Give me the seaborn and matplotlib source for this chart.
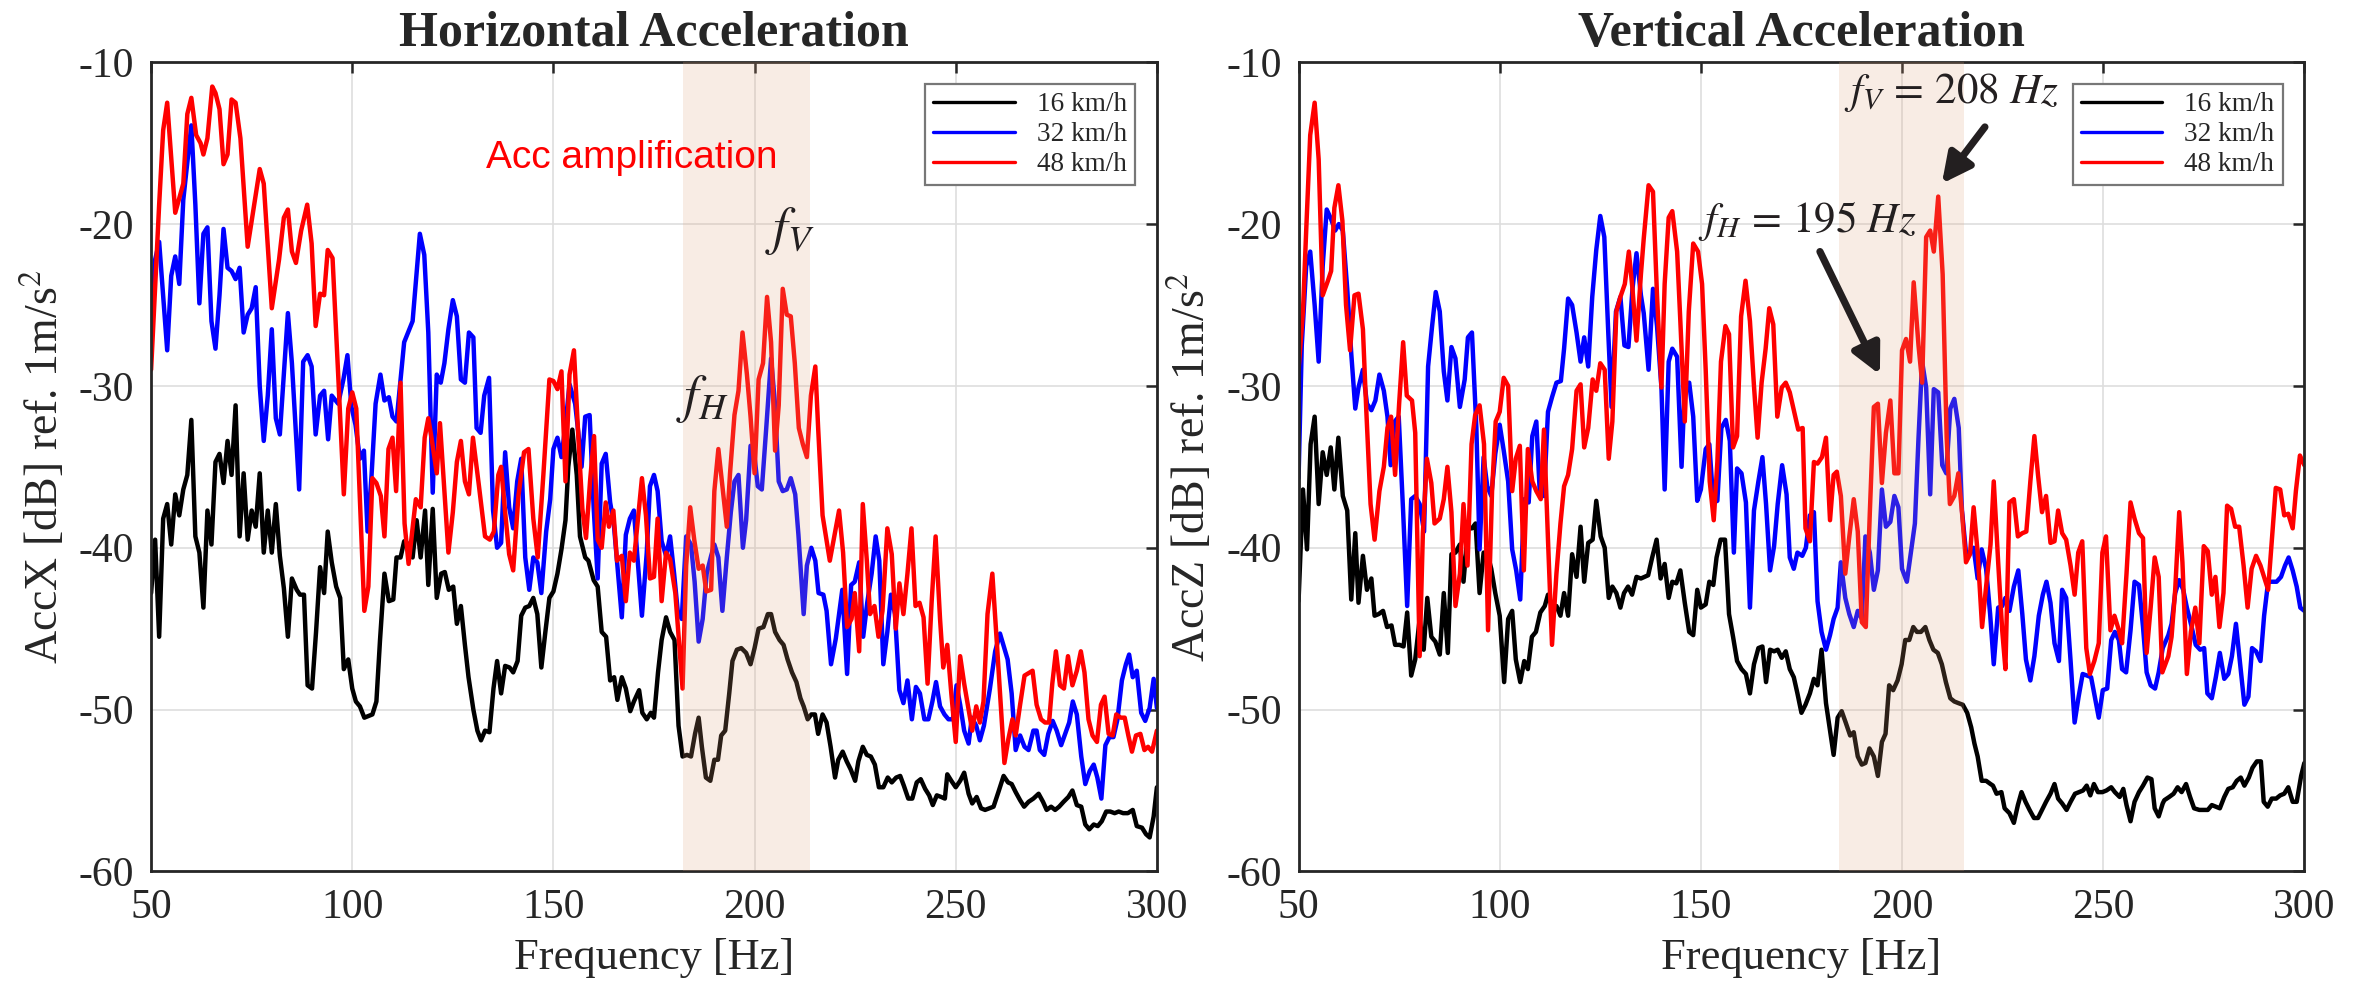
import matplotlib
matplotlib.use("Agg")
import matplotlib.pyplot as plt
from matplotlib.lines import Line2D
import pandas as pd
import seaborn as sns

# ---------------- spectra: (frequency [Hz], level [dB]) ----------------
# Horizontal acceleration (AccX)
accx_16 = [(50,-42.8),(51,-39.5),(52,-45.5),(53,-38.2),(54,-37.3),(55,-39.8),(56,-36.7),(57,-38.0),(58,-36.4),(59,-35.5),(60,-32.1),(61,-39.3),(62,-40.3),(63,-43.7),(64,-37.7),(65,-39.8),(66,-34.7),(67,-34.2),(68,-36.0),(69,-33.4),(70,-35.5),(71,-31.2),(72,-39.3),(73,-35.4),(74,-39.5),(75,-37.7),(76,-38.7),(77,-35.4),(78,-40.3),(79,-37.7),(80,-40.3),(81,-37.3),(82,-40.5),(83,-42.5),(84,-45.5),(85,-41.9),(86.2,-42.6),(87,-42.9),(88,-42.9),(88.9,-48.5),(90,-48.7),(91,-45.2),(92,-41.2),(93,-42.8),(93.9,-39.0),(94.9,-40.9),(96,-42.4),(97,-43.1),(97.9,-47.5),(99,-46.9),(100,-48.7),(100.9,-49.5),(101.9,-49.8),(103,-50.5),(105,-50.3),(106,-49.5),(106.9,-45.7),(108,-41.6),(109.1,-43.3),(110.2,-43.2),(111,-40.6),(112,-40.6),(112.9,-39.6),(114.1,-39.8),(115,-40.6),(116,-38.3),(117,-40.6),(118.1,-37.7),(118.9,-42.3),(120,-37.6),(121,-43.1),(122.1,-41.6),(123,-41.5),(124,-42.6),(125.1,-42.4),(126,-44.7),(127,-43.6),(128,-46.0),(128.9,-48.0),(130.1,-50.0),(131.1,-51.3),(132,-51.9),(133,-51.3),(134.1,-51.4),(135.1,-48.7),(136,-47.0),(137,-49.0),(138,-47.3),(139.1,-47.4),(140,-47.7),(141.1,-47.0),(142,-44.2),(143,-43.7),(144,-43.6),(145,-43.1),(146,-44.1),(147,-47.4),(148,-45.2),(149,-43.1),(150,-42.7),(151,-41.6),(152,-40.1),(153,-38.3),(153.7,-35.0),(154.7,-32.7),(155.8,-35.5),(156.6,-39.3),(157.9,-40.6),(158.7,-40.8),(160,-42.0),(161,-42.4),(162,-45.2),(163.1,-45.5),(164.1,-48.2),(165.1,-48.0),(165.9,-49.4),(167,-48.0),(168,-48.7),(169.1,-50.1),(170,-49.5),(171.3,-48.8),(172.1,-50.2),(173.2,-50.6),(174.2,-50.2),(175,-50.5),(176,-47.7),(176.9,-45.7),(178,-44.3),(179,-45.2),(180.1,-45.7),(181.1,-51.0),(182.1,-52.9),(183.2,-52.8),(184.2,-52.9),(185.2,-51.5),(186.1,-50.5),(186.9,-52.3),(187.9,-54.2),(189,-54.4),(190,-53.1),(190.9,-53.1),(191.7,-51.6),(192.7,-51.3),(193.7,-49.0),(194.5,-47.0),(195.6,-46.3),(196.7,-46.2),(197.9,-46.5),(199,-47.2),(200,-46.2),(201,-45.0),(202.2,-44.9),(203.3,-44.1),(204.1,-44.1),(205.1,-45.2),(206.2,-45.7),(207.2,-46.0),(208.2,-46.9),(209.3,-47.7),(210.4,-48.3),(211.4,-49.3),(212.2,-49.8),(213.2,-50.6),(214.1,-50.3),(215,-50.3),(215.8,-51.5),(216.9,-50.3),(217.9,-50.8),(218.9,-52.3),(220,-54.2),(220.8,-53.1),(221.9,-52.6),(222.9,-53.2),(223.9,-53.7),(225,-54.4),(225.8,-53.2),(226.9,-52.3),(227.9,-52.8),(228.9,-52.9),(229.9,-53.4),(230.9,-54.8),(232,-54.8),(233.1,-54.2),(234.1,-54.5),(235.2,-54.2),(236.2,-54.1),(237.1,-54.7),(238.2,-55.5),(239.2,-55.5),(240.3,-54.5),(241.3,-54.3),(242.4,-54.9),(243.4,-55.3),(244.3,-55.9),(245.3,-55.3),(246.4,-55.4),(247.3,-55.5),(247.9,-54.0),(248.9,-54.4),(250,-54.8),(251.1,-54.4),(252.1,-53.9),(253.2,-55.2),(254.1,-55.8),(255.2,-55.4),(256.3,-56.1),(257.3,-56.2),(259.4,-56.0),(260.6,-55.1),(261.9,-54.1),(263,-54.5),(263.9,-54.6),(264.9,-55.1),(266,-55.6),(267,-56.0),(268.1,-55.7),(269.3,-55.5),(270.6,-55.2),(271.7,-55.7),(272.6,-56.2),(273.7,-56.0),(274.7,-56.2),(275.7,-56.0),(276.8,-55.7),(278,-55.4),(279,-55.0),(280.1,-55.9),(281.2,-56.0),(282.2,-57.1),(283.2,-57.4),(284.3,-57.1),(285.3,-57.2),(286.3,-56.9),(287.4,-56.3),(288.4,-56.3),(289.5,-56.4),(290.5,-56.3),(291.6,-56.4),(292.8,-56.4),(294,-56.2),(295,-57.2),(296.3,-57.3),(297.3,-57.7),(298.2,-57.9),(299.2,-56.6),(300,-54.8)]

accx_32 = [(50,-27.2),(51,-22.2),(52,-21.1),(54,-27.8),(55,-23.2),(56,-22.0),(57,-23.7),(58,-18.5),(60,-13.9),(61,-18.8),(62,-24.9),(63,-20.6),(64,-20.2),(65,-26.0),(66,-27.7),(67,-24.4),(68,-20.3),(69,-22.7),(70,-22.9),(71,-23.4),(72,-22.7),(73,-26.7),(74,-25.6),(75,-25.2),(76,-23.9),(77,-30.0),(78,-33.4),(79,-30.6),(80,-26.5),(81,-32.0),(82,-33.0),(84,-25.5),(85,-28.6),(86.8,-36.4),(87.8,-28.5),(88.9,-28.1),(89.9,-28.8),(90.9,-33.0),(92,-30.6),(93,-30.3),(94,-33.3),(94.9,-30.6),(96.5,-31.1),(97.8,-29.6),(98.8,-28.1),(99.8,-31.3),(100.8,-32.4),(101.9,-34.5),(102.9,-34.0),(103.8,-39.0),(104.8,-35.5),(105.8,-31.1),(107,-29.3),(108,-30.9),(109.1,-30.7),(110,-31.9),(111,-32.2),(112.9,-27.3),(115,-26.0),(116.8,-20.6),(117.9,-21.9),(118.9,-26.7),(120,-36.6),(121,-29.3),(122,-29.8),(122.9,-28.6),(123.9,-26.5),(125,-24.7),(126,-25.7),(127,-29.6),(128,-29.8),(129,-26.7),(130.1,-27.0),(130.9,-32.6),(131.9,-32.9),(132.8,-30.6),(134,-29.5),(135,-37.7),(136,-40.0),(137,-39.7),(138,-34.1),(139,-37.5),(140,-38.8),(141,-35.9),(142,-34.5),(143,-40.6),(144,-42.6),(145,-40.6),(146,-40.9),(147,-42.8),(148.2,-39.0),(149.2,-37.0),(150,-33.9),(151,-33.2),(152,-34.4),(153,-32.4),(154,-29.9),(155.4,-31.1),(156.2,-32.9),(157,-35.0),(157.9,-31.9),(159,-31.8),(160,-37.5),(161,-41.9),(162,-34.8),(163,-34.2),(164.1,-37.2),(165,-38.5),(167,-44.3),(168,-39.2),(169,-38.2),(170,-37.7),(172,-44.2),(173.2,-40.3),(174,-36.2),(175,-35.5),(175.9,-36.5),(176.9,-39.6),(178,-40.5),(179,-39.3),(180,-41.6),(180.9,-43.9),(181.9,-44.4),(183,-39.3),(184.2,-39.8),(185.1,-42.1),(186.1,-45.8),(187.1,-44.4),(188.1,-41.6),(189.2,-40.5),(190,-39.8),(191,-40.6),(192,-43.9),(193.1,-40.6),(194.1,-37.8),(195,-35.9),(196,-35.5),(197.1,-40.0),(197.9,-38.3),(199,-33.7),(200,-34.4),(200.8,-36.2),(201.8,-36.4),(202.9,-32.6),(204.1,-28.3),(205,-30.9),(206,-35.9),(207,-36.5),(208,-36.4),(209,-35.7),(210.1,-36.7),(210.9,-39.2),(212.2,-44.1),(213,-41.1),(214.1,-40.0),(215.1,-40.8),(215.9,-42.8),(217.1,-42.9),(217.9,-43.9),(219,-47.2),(220.2,-45.6),(221.8,-42.6),(223,-47.8),(224,-42.3),(224.9,-42.1),(226,-40.9),(227,-45.5),(228,-43.4),(229.1,-41.6),(230.1,-39.3),(231,-40.8),(232,-47.2),(233,-45.2),(233.9,-42.9),(234.9,-44.1),(236,-48.8),(237,-49.6),(238,-48.2),(239.1,-50.6),(240.1,-48.6),(241.1,-49.0),(242.2,-50.6),(243.2,-50.6),(244.2,-49.5),(245.1,-48.3),(246.1,-49.8),(247.2,-50.3),(248.2,-50.6),(249.3,-50.6),(250.2,-48.5),(251.1,-49.7),(252.1,-51.3),(253.2,-52.1),(254,-50.5),(255.1,-51.0),(256,-51.9),(257,-51.0),(258.5,-48.7),(259.8,-46.4),(261,-45.3),(262.9,-46.9),(263.9,-49.0),(264.9,-52.5),(266,-51.6),(267.1,-52.3),(268.1,-52.5),(269.3,-51.3),(270.1,-51.3),(270.9,-52.5),(272,-52.8),(273,-51.5),(274.1,-50.7),(275.1,-51.3),(276.2,-52.2),(277.2,-51.5),(278.2,-50.8),(279.1,-49.5),(280.1,-50.3),(281.2,-52.9),(282.2,-54.6),(283.3,-53.8),(284.3,-53.4),(285.2,-54.2),(286.2,-55.5),(287.2,-52.2),(288.2,-51.7),(289.2,-51.7),(290.2,-50.6),(291.3,-48.2),(292.3,-47.2),(293.1,-46.6),(294,-48.0),(295,-47.6),(296.1,-50.2),(297.1,-50.7),(298.2,-49.9),(299.2,-48.1),(300,-49.9)]

accx_48 = [(50,-29.0),(51,-23.9),(52,-18.8),(53,-14.2),(54,-12.5),(56,-19.3),(58,-17.5),(59,-13.2),(60,-12.2),(61.2,-14.5),(62.3,-15.0),(63,-15.7),(64,-14.7),(65.2,-11.5),(66,-11.9),(67,-12.9),(68,-16.3),(69,-15.7),(70,-12.3),(71,-12.5),(72.2,-14.7),(74,-21.4),(77,-16.6),(78,-17.5),(80,-25.2),(81.8,-22.2),(83,-19.6),(84,-19.1),(85,-21.7),(86,-22.4),(87.3,-20.4),(88.8,-18.8),(89.9,-21.2),(90.9,-26.3),(92,-24.3),(93,-24.4),(93.9,-21.6),(95.1,-22.1),(96.5,-29.3),(97.9,-36.7),(99,-31.4),(100,-30.4),(101,-31.4),(103,-43.9),(104,-42.4),(105,-35.7),(106,-36.0),(107.1,-36.8),(108,-39.3),(109,-33.9),(110,-33.2),(110.9,-36.5),(112,-29.8),(113,-38.5),(114,-41.0),(115.8,-37.0),(117,-37.5),(118,-33.2),(118.9,-32.0),(119.7,-33.2),(121,-35.4),(121.8,-32.3),(123.9,-40.3),(125,-37.8),(126,-34.7),(127,-33.4),(128,-35.9),(129,-36.7),(130,-33.2),(131.5,-36.2),(133,-39.3),(134.2,-39.5),(135.2,-39.0),(136.3,-35.5),(137,-35.0),(138,-37.8),(139,-40.4),(140,-41.4),(141.3,-36.8),(142.7,-34.1),(143.8,-33.9),(145,-38.2),(146.1,-40.6),(147.5,-35.5),(149,-29.6),(150,-29.7),(151,-30.2),(152,-29.1),(153,-35.9),(154,-29.3),(155.1,-27.8),(156.2,-33.2),(157.2,-37.6),(158.1,-39.4),(159.1,-35.9),(160.1,-33.1),(161,-39.5),(162,-40.0),(163,-37.2),(163.8,-38.7),(164.9,-37.7),(165.8,-40.8),(167,-40.5),(168,-43.3),(169,-40.3),(170,-40.8),(172,-35.7),(173,-38.0),(174,-41.9),(175,-41.8),(175.9,-38.2),(176.9,-43.3),(178,-40.3),(179,-40.7),(180.3,-42.8),(182.1,-48.7),(183,-41.1),(184,-37.5),(185,-39.5),(186.1,-41.3),(187.1,-41.1),(188,-42.7),(189.2,-42.6),(190,-36.5),(191,-33.9),(192,-36.2),(193.1,-38.7),(193.9,-35.4),(195,-31.8),(196,-30.3),(197,-26.7),(198.1,-29.3),(199,-31.9),(200,-35.4),(201,-29.6),(202.1,-28.6),(203.1,-24.5),(204.1,-27.3),(205.1,-34.0),(206,-31.2),(207,-24.0),(208,-25.6),(209,-25.7),(210,-28.6),(211,-32.6),(212,-33.6),(213,-34.4),(214,-30.6),(215.1,-28.8),(215.8,-32.6),(216.9,-38.0),(218.7,-40.8),(219.8,-39.3),(221,-37.7),(222,-40.3),(223,-44.9),(224.1,-44.4),(224.9,-42.8),(226,-46.4),(226.9,-37.3),(227.9,-40.8),(228.7,-44.1),(229.8,-43.6),(230.8,-45.5),(231.8,-43.9),(233,-38.8),(234.1,-40.4),(235.1,-45.0),(236,-42.2),(237,-44.1),(238,-41.6),(239,-38.8),(240,-43.6),(241,-43.4),(242,-44.3),(243,-48.4),(244,-43.4),(245,-39.3),(246.1,-44.4),(246.9,-47.4),(247.9,-46.0),(248.9,-49.0),(250,-52.0),(251.1,-46.7),(252.1,-48.4),(253.2,-50.0),(254.1,-51.3),(255.1,-49.8),(256,-50.8),(256.9,-49.5),(257.9,-44.1),(259.1,-41.6),(260.2,-45.8),(262.1,-53.3),(263.1,-51.8),(264.1,-50.6),(264.9,-51.6),(266,-49.7),(267.1,-47.9),(269.1,-47.6),(270.1,-49.7),(271.2,-50.6),(272.2,-50.8),(273.2,-50.8),(274,-48.4),(274.9,-46.4),(275.9,-48.5),(276.9,-48.7),(277.9,-46.7),(279,-48.5),(280.1,-47.6),(281.1,-46.4),(282,-47.7),(283,-50.6),(284,-51.6),(285.1,-52.0),(286.1,-49.7),(287,-49.2),(288,-51.5),(289,-51.6),(289.9,-50.3),(291,-50.5),(292,-50.5),(292.9,-51.6),(293.8,-52.6),(294.8,-51.6),(295.9,-51.5),(296.9,-52.5),(297.8,-52.3),(298.8,-52.6),(300,-51.3)]

# Vertical acceleration (AccZ)
accz_16 = [(50,-43.3),(51.1,-36.4),(52.1,-40.1),(53,-33.6),(54,-31.9),(55,-37.3),(56,-34.1),(57,-35.5),(58,-33.8),(58.9,-36.4),(59.9,-33.2),(61,-36.8),(62.1,-37.7),(63.1,-43.2),(64.1,-39.1),(64.9,-43.4),(66,-40.5),(67,-42.6),(68.1,-41.9),(68.9,-44.2),(69.9,-44.1),(71,-43.9),(72,-44.9),(73.1,-44.8),(74,-46.0),(75.1,-46.0),(76.1,-46.1),(77,-44.0),(78,-47.9),(79,-46.9),(80.1,-44.4),(81.1,-46.3),(82,-43.1),(83,-45.5),(84,-45.8),(85.1,-46.6),(86.1,-42.8),(87.1,-46.5),(88,-40.4),(89,-40.3),(90.1,-39.8),(91,-42.1),(92.1,-38.8),(93.1,-38.8),(94,-38.5),(95,-42.8),(96,-40.3),(96.9,-40.3),(97.9,-41.3),(98.9,-42.8),(100,-44.2),(101.1,-48.3),(102.1,-44.4),(103.1,-43.9),(104,-46.9),(105.1,-48.3),(106.1,-47.0),(107,-47.5),(108,-45.5),(109,-45.2),(110.1,-44.0),(111.2,-43.6),(112,-42.9),(113,-43.6),(114.1,-43.6),(115.1,-44.2),(116,-42.8),(117,-44.2),(118,-40.4),(119.1,-41.8),(120.1,-38.7),(121,-42.1),(122,-39.7),(123.1,-39.5),(124,-37.1),(125.1,-39.3),(126.1,-40.0),(127.1,-43.1),(128,-42.4),(129,-42.8),(130,-43.7),(130.9,-42.8),(131.9,-42.4),(132.9,-42.9),(134,-41.8),(135.1,-41.9),(136.9,-41.7),(137.9,-40.6),(139,-39.5),(140,-41.9),(141,-41.0),(142,-43.1),(142.9,-42.1),(143.9,-42.2),(144.9,-41.4),(146,-43.4),(147.1,-45.2),(148.1,-45.4),(149.1,-42.6),(150,-43.7),(151.2,-43.5),(152.1,-42.1),(153.1,-42.3),(153.9,-40.6),(154.9,-39.5),(156,-39.5),(157,-44.1),(158,-45.5),(159,-47.0),(160.1,-47.5),(161.2,-47.8),(162.2,-49.0),(163.2,-47.2),(164.3,-46.2),(165.3,-46.1),(166.2,-48.3),(167.2,-46.3),(168.2,-46.4),(169.1,-46.3),(170.1,-46.8),(171.1,-46.4),(172.1,-47.5),(173.1,-48.0),(174,-49.0),(175,-50.2),(176,-49.7),(177.1,-49.0),(178.1,-48.1),(179,-48.5),(180,-46.3),(181.1,-49.6),(182.1,-51.3),(183,-52.8),(184,-50.5),(185,-50.1),(186,-50.8),(187.1,-51.6),(188,-51.4),(189,-52.9),(190,-53.4),(190.9,-53.3),(191.9,-52.4),(193,-52.9),(194,-54.1),(195,-52.0),(195.9,-51.5),(196.8,-48.5),(197.8,-48.8),(198.9,-48.2),(199.9,-47.2),(200.8,-45.7),(201.8,-45.7),(202.8,-44.9),(203.7,-45.2),(204.7,-45.2),(205.8,-44.9),(206.8,-45.7),(207.8,-46.3),(208.9,-46.5),(209.9,-47.2),(210.9,-48.3),(212,-49.3),(213,-49.5),(214,-49.6),(215.1,-49.7),(216.2,-50.2),(217.2,-51.1),(218,-52.1),(218.8,-52.9),(219.8,-54.4),(220.9,-54.4),(222,-54.6),(222.6,-54.7),(223.5,-55.2),(224.7,-55.1),(225.5,-56.1),(226.7,-56.4),(227.8,-57.0),(228.8,-55.9),(229.7,-55.1),(230.7,-55.7),(231.7,-56.2),(232.8,-56.7),(233.8,-56.7),(234.8,-56.2),(235.8,-55.7),(236.9,-55.2),(237.9,-54.6),(238.8,-55.5),(239.8,-55.8),(240.9,-56.2),(241.9,-55.7),(243,-55.2),(244,-55.1),(245,-55.0),(245.9,-54.7),(246.8,-55.3),(247.7,-54.6),(248.7,-55.1),(249.8,-55.1),(250.8,-55.0),(252,-54.8),(252.9,-55.1),(254.1,-55.4),(255,-54.9),(255.8,-55.9),(256.8,-56.9),(257.8,-55.7),(258.9,-55.1),(259.9,-54.7),(261,-54.2),(262,-54.3),(262.8,-56.1),(263.8,-56.6),(264.8,-55.8),(265.2,-55.6),(266.4,-55.4),(267.5,-55.2),(268.5,-54.8),(269.5,-55.1),(270.6,-54.6),(271.6,-55.4),(272.6,-56.1),(273.9,-56.2),(275,-56.2),(276,-56.2),(277,-55.9),(278,-56.0),(279,-56.1),(280.1,-55.4),(281.1,-54.9),(282.2,-54.8),(283.2,-54.4),(284.2,-54.2),(285.1,-54.7),(286.2,-54.2),(287.1,-53.6),(288.2,-53.2),(289.2,-53.2),(289.9,-55.7),(290.9,-56.0),(291.9,-55.5),(293,-55.5),(294,-55.3),(295,-55.2),(296,-54.8),(297.1,-55.7),(298.1,-55.7),(299.2,-54.1),(300,-53.3)]

accz_32 = [(50,-35.7),(50.8,-27.5),(51.9,-22.6),(52.9,-21.7),(54,-25.0),(55,-28.5),(56,-22.6),(57,-19.1),(58.1,-19.7),(59.1,-20.4),(60,-20.0),(61,-20.4),(62.1,-24.0),(63.1,-28.0),(64.1,-31.4),(64.9,-30.1),(66,-29.0),(67,-31.1),(68.1,-31.5),(69.1,-30.9),(70.1,-29.3),(71.2,-30.3),(72.1,-31.9),(72.9,-34.9),(73.9,-32.2),(74.9,-31.9),(76,-37.8),(77,-43.6),(78,-37.0),(79,-36.8),(80.1,-37.3),(81.2,-39.0),(82.2,-28.8),(83.2,-26.3),(84.1,-24.2),(85.1,-25.4),(86.1,-29.1),(87,-30.9),(88,-27.6),(89,-28.3),(90.1,-31.3),(91.3,-29.6),(92.1,-27.0),(93.1,-26.7),(94.2,-32.6),(95,-40.1),(96,-34.4),(96.9,-36.2),(97.9,-36.8),(98.9,-34.2),(100,-32.4),(101,-34.0),(102.1,-35.9),(103.1,-40.1),(104.1,-41.4),(105.1,-43.2),(106.1,-37.0),(107.2,-37.2),(108.1,-33.1),(109.1,-32.2),(110,-36.8),(111,-36.8),(112,-31.6),(113,-30.7),(114.1,-29.8),(115.2,-29.7),(116,-27.7),(117,-24.6),(118,-25.0),(119.1,-26.7),(120.1,-28.5),(121,-27.0),(122,-28.8),(123,-24.5),(124,-21.6),(125,-19.5),(126,-20.8),(127,-26.8),(127.8,-31.3),(128.9,-25.4),(130,-24.5),(131,-27.5),(132,-27.6),(133,-24.0),(134,-21.8),(135.1,-24.4),(135.8,-25.5),(137,-29.0),(138.1,-24.0),(139.1,-26.3),(140.2,-30.1),(141,-36.4),(142,-28.5),(142.9,-27.7),(144.1,-28.2),(145.2,-35.0),(146,-30.0),(147.1,-29.8),(148.1,-31.9),(149.1,-37.1),(150,-36.4),(151.2,-33.9),(152.1,-33.6),(153.1,-37.2),(154.1,-37.1),(155.1,-32.6),(156.2,-32.1),(157.2,-33.4),(158.2,-40.3),(159,-35.1),(160.1,-35.4),(161.2,-37.2),(162.2,-43.7),(163.2,-37.7),(164.3,-35.9),(165.3,-34.4),(166.2,-37.3),(167.2,-41.4),(168.2,-39.9),(169.1,-37.3),(170.2,-34.9),(171.3,-36.7),(172.1,-40.6),(173.1,-41.3),(174,-40.3),(175.2,-40.5),(176.1,-40.0),(177.1,-38.0),(178.1,-37.8),(179,-43.3),(180,-45.2),(181.1,-46.3),(182.1,-45.4),(183,-44.4),(184,-43.7),(184.8,-40.9),(185.9,-43.1),(186.9,-44.1),(188,-44.9),(189,-43.9),(190,-44.4),(190.9,-39.3),(192,-40.3),(193,-42.6),(194,-41.4),(195,-36.4),(196,-38.7),(197.1,-38.4),(198.1,-36.8),(199.1,-37.5),(200,-41.3),(201.2,-42.1),(202.2,-40.3),(203.2,-38.5),(204.1,-33.2),(205,-28.5),(206,-30.1),(207,-36.7),(207.9,-30.2),(209,-30.4),(210,-34.9),(211,-35.4),(212,-31.4),(213,-30.8),(214.1,-32.6),(214.9,-37.7),(215.9,-40.3),(216.9,-40.3),(217.8,-40.0),(218.8,-41.9),(219.8,-40.1),(220.9,-41.3),(221.9,-44.1),(222.8,-47.2),(223.9,-43.7),(224.9,-43.6),(225.7,-43.1),(226.7,-43.9),(227.8,-42.4),(228.9,-41.4),(229.9,-44.1),(230.8,-46.9),(231.9,-48.2),(232.9,-46.7),(234,-44.2),(235,-42.9),(235.9,-42.1),(236.9,-43.4),(237.9,-45.9),(239,-47.0),(239.8,-42.6),(240.8,-43.1),(241.9,-47.0),(242.9,-50.8),(243.9,-49.2),(244.9,-47.8),(246,-47.9),(247,-48.0),(247.9,-49.2),(248.9,-50.5),(249.9,-48.8),(251,-48.7),(252,-45.7),(252.9,-45.2),(253.9,-45.7),(254.7,-47.5),(255.7,-47.7),(256.8,-45.1),(257.8,-42.1),(258.9,-42.3),(259.9,-44.9),(260.8,-47.7),(261.8,-48.5),(262.9,-48.7),(263.8,-47.7),(264.8,-46.2),(266.2,-45.4),(267,-44.7),(267.9,-42.8),(268.9,-42.0),(269.9,-42.6),(270.8,-43.7),(272,-44.9),(273,-46.0),(274.1,-46.3),(275.1,-46.2),(275.9,-49.0),(277,-49.3),(278,-48.0),(279,-46.5),(280.1,-48.1),(281.1,-47.8),(282,-46.7),(283,-44.7),(284.1,-47.3),(285.1,-49.7),(286.1,-49.2),(287,-46.2),(288,-46.4),(289.1,-47.0),(290,-44.2),(291,-42.1),(292.1,-42.1),(293.1,-42.1),(294.2,-41.8),(295.2,-41.1),(296.1,-40.6),(297.1,-41.4),(298.1,-42.4),(299,-43.7),(300,-43.9)]

accz_48 = [(50,-29.0),(51.1,-25.4),(51.9,-20.4),(52.9,-14.5),(54,-12.5),(55,-16.0),(56,-24.4),(57.3,-23.5),(58.1,-22.9),(58.9,-19.0),(59.9,-17.6),(60.9,-19.8),(61.8,-25.0),(62.8,-27.8),(63.9,-24.4),(64.9,-24.3),(66,-26.5),(66.8,-31.3),(67.9,-37.3),(68.9,-39.5),(70.1,-36.5),(71.2,-35.0),(72.1,-32.6),(73,-31.9),(74,-35.5),(75,-31.1),(76,-27.3),(76.9,-30.6),(78.2,-30.9),(79,-32.9),(80.1,-46.7),(80.9,-39.1),(81.9,-34.5),(83,-36.0),(83.8,-38.5),(85.1,-38.2),(86.1,-37.0),(87,-35.0),(88,-37.8),(89,-43.6),(90.1,-41.6),(91,-37.3),(92,-41.1),(93,-33.6),(93.9,-31.8),(95,-31.2),(96.1,-33.6),(97.1,-45.1),(98.1,-36.5),(99,-32.2),(100,-31.6),(101,-29.5),(102.1,-30.0),(103.1,-36.5),(104,-34.5),(105,-33.7),(106,-41.4),(107,-33.9),(108.1,-35.9),(109.1,-36.5),(110.2,-37.0),(111,-32.7),(112,-39.5),(113,-46.0),(114.1,-41.6),(115.1,-38.5),(116,-36.2),(117,-35.5),(118,-33.9),(119.1,-30.3),(120.1,-29.9),(121,-33.8),(122,-32.6),(123.1,-29.6),(124,-30.3),(125,-28.6),(126.1,-29.0),(127.1,-34.5),(128,-32.2),(129,-25.4),(130,-24.5),(131.1,-23.7),(132.1,-21.7),(133,-24.0),(134,-27.2),(135.1,-23.1),(135.8,-20.9),(137,-17.6),(138.1,-18.0),(139.1,-24.4),(140.2,-30.1),(141,-23.7),(142,-19.6),(142.9,-19.2),(144.1,-21.7),(144.9,-26.0),(146,-32.2),(147,-25.4),(148.1,-21.2),(149.3,-21.7),(150.3,-23.7),(151.2,-29.0),(152.2,-35.9),(153.2,-38.3),(154.1,-34.7),(155,-28.5),(156.1,-26.3),(157,-26.8),(158,-33.8),(159,-33.1),(160,-25.7),(161.1,-23.5),(162.2,-26.0),(163.2,-30.0),(164.1,-33.2),(165.1,-29.8),(166.1,-27.7),(167,-25.2),(168,-26.2),(169,-31.9),(170.1,-30.1),(171.1,-29.8),(172.1,-30.4),(173.2,-31.6),(174.2,-32.7),(175.3,-32.6),(176,-38.8),(177.1,-39.6),(178.1,-34.7),(179,-34.8),(180.1,-34.4),(181.1,-33.2),(182.1,-38.3),(183,-35.5),(183.8,-35.3),(184.8,-36.8),(185.9,-41.6),(186.9,-39.3),(188,-37.0),(189,-39.0),(190,-44.6),(191,-44.9),(192,-37.8),(193,-31.3),(194,-31.1),(195,-36.0),(196,-32.9),(197.1,-30.9),(198.1,-35.4),(199.1,-35.4),(200,-27.8),(201,-27.1),(202,-28.5),(202.9,-23.6),(204.1,-27.5),(205,-29.8),(206,-20.8),(207,-20.4),(207.9,-21.7),(209,-18.3),(210.1,-23.1),(211.1,-33.2),(211.9,-37.3),(213,-36.8),(214,-35.4),(214.9,-37.8),(215.9,-40.9),(216.9,-40.4),(217.8,-37.5),(218.8,-40.3),(219.9,-44.9),(220.9,-42.4),(222,-39.8),(222.8,-35.9),(223.9,-40.9),(224.9,-45.1),(225.7,-47.5),(226.7,-37.2),(227.8,-37.0),(228.8,-39.3),(229.9,-39.1),(230.9,-39.0),(231.9,-35.9),(232.9,-33.1),(233.8,-35.5),(234.8,-37.8),(235.8,-36.8),(236.9,-39.7),(237.9,-39.6),(238.8,-37.7),(239.8,-39.1),(240.8,-39.5),(241.9,-41.1),(242.9,-42.9),(243.8,-40.3),(244.8,-39.6),(245.8,-46.2),(246.7,-47.8),(247.8,-47.0),(248.9,-45.9),(249.8,-40.3),(250.7,-39.3),(251.8,-45.1),(252.8,-44.2),(253.9,-45.1),(254.7,-45.9),(255.8,-41.6),(256.8,-37.2),(257.8,-38.2),(258.9,-39.1),(259.9,-39.4),(260.8,-46.5),(261.8,-43.7),(262.8,-40.6),(263.8,-41.8),(264.7,-47.7),(266.2,-46.7),(267,-45.5),(267.9,-42.6),(268.9,-37.8),(269.7,-40.9),(270.8,-47.8),(271.8,-45.2),(272.9,-43.7),(273.9,-45.9),(275,-39.9),(276,-40.2),(277,-42.9),(277.9,-41.8),(278.9,-44.9),(279.9,-42.8),(280.8,-37.4),(281.8,-37.6),(282.8,-38.7),(283.8,-38.7),(284.9,-41.1),(285.9,-43.7),(286.9,-41.3),(288,-40.5),(289.1,-41.1),(290,-41.8),(291,-42.6),(292.1,-39.0),(292.9,-36.3),(294,-36.4),(295,-38.0),(296,-37.9),(297.1,-38.8),(297.9,-36.5),(298.9,-34.3),(300,-34.9)]

speeds = ["16 km/h", "32 km/h", "48 km/h"]
line_colors = ["#000000", "#0000FF", "#FF0000"]
freq_ticks = [50, 100, 150, 200, 250, 300]
db_ticks = [-60, -50, -40, -30, -20, -10]
band_h = (182.2, 213.8)   # shaded band, horizontal panel
band_v = (184.3, 215.5)   # shaded band, vertical panel


def to_frame(series):
    rows = []
    for label, pts in zip(speeds, series):
        for f, v in pts:
            rows.append({"Frequency": f, "dB": v, "Speed": label})
    return pd.DataFrame(rows)


sns.set_style("white")
plt.rcParams["font.family"] = ["Liberation Serif", "DejaVu Serif"]
plt.rcParams["mathtext.fontset"] = "stix"
plt.rcParams["axes.unicode_minus"] = False

fig = plt.figure(figsize=(11.805, 4.94), dpi=200)
ax_h = fig.add_axes([0.064, 0.118, 0.426, 0.819])
ax_v = fig.add_axes([0.550, 0.118, 0.426, 0.819])

ink = "#231F20"
palette = dict(zip(speeds, line_colors))

panels = [
    (ax_h, to_frame([accx_16, accx_32, accx_48]), band_h,
     "Horizontal Acceleration", "AccX [dB] ref. 1m/s$^2$"),
    (ax_v, to_frame([accz_16, accz_32, accz_48]), band_v,
     "Vertical Acceleration", "AccZ [dB] ref. 1m/s$^2$"),
]

for ax, df, band, title, ylab in panels:
    sns.lineplot(data=df, x="Frequency", y="dB", hue="Speed", hue_order=speeds,
                 palette=palette, estimator=None, sort=False, linewidth=1.6,
                 legend=False, ax=ax, zorder=2)
    # translucent band laid over the traces
    ax.axvspan(band[0], band[1], facecolor="#E0A27A", alpha=0.2,
               edgecolor="none", zorder=3)
    ax.set_xlim(50, 300)
    ax.set_ylim(-60, -10)
    ax.set_xticks(freq_ticks)
    ax.set_yticks(db_ticks)
    ax.grid(True, color="#DEDEDE", linewidth=0.6)
    ax.set_axisbelow(True)
    ax.tick_params(direction="in", length=4, width=0.9, top=True, right=True,
                   labelsize=15, colors="#262626", pad=6)
    for sp in ax.spines.values():
        sp.set_color("#262626")
        sp.set_linewidth(1.0)
    ax.set_title(title, fontsize=18, fontweight="bold", pad=6)
    ax.set_xlabel("Frequency [Hz]", fontsize=16, color="#262626", labelpad=4)
    ax.set_ylabel(ylab, fontsize=16.5, color="#262626", labelpad=4)
    handles = [Line2D([0], [0], color=c, lw=1.2) for c in line_colors]
    leg = ax.legend(handles, speeds, loc="upper right", fontsize=9.8,
                    handlelength=3.0, labelspacing=0.18, borderaxespad=0.8,
                    fancybox=False, framealpha=1, edgecolor="#777777",
                    borderpad=0.3, handletextpad=0.8)
    leg.get_frame().set_linewidth(0.8)
    leg.set_zorder(6)

# annotations, horizontal panel
ax_h.text(169.5, -15.9, "Acc amplification", color="#FF0000",
          family=["Liberation Sans", "DejaVu Sans"], fontsize=14,
          ha="center", va="center", zorder=5)
ax_h.text(187.0, -30.8, r"$f_H$", color=ink, fontsize=19,
          ha="center", va="center", zorder=5)
ax_h.text(208.8, -20.4, r"$f_V$", color=ink, fontsize=19,
          ha="center", va="center", zorder=5)

# annotations, vertical panel
ax_v.text(149.3, -19.8, r"$f_H\,=\,195\ Hz$", color=ink, fontsize=15.5,
          ha="left", va="center", zorder=5)
ax_v.text(185.5, -11.9, r"$f_V\,=\,208\ Hz$", color=ink, fontsize=15.5,
          ha="left", va="center", zorder=5)
arrow_kw = dict(arrowstyle="-|>", color=ink, lw=2.6, mutation_scale=22,
                shrinkA=0, shrinkB=0)
ax_v.annotate("", xy=(194.5, -29.3), xytext=(179.6, -21.7),
              arrowprops=arrow_kw, zorder=5)
ax_v.annotate("", xy=(209.9, -17.5), xytext=(220.6, -14.0),
              arrowprops=arrow_kw, zorder=5)

fig.savefig("out.png", dpi=200, facecolor="white")
